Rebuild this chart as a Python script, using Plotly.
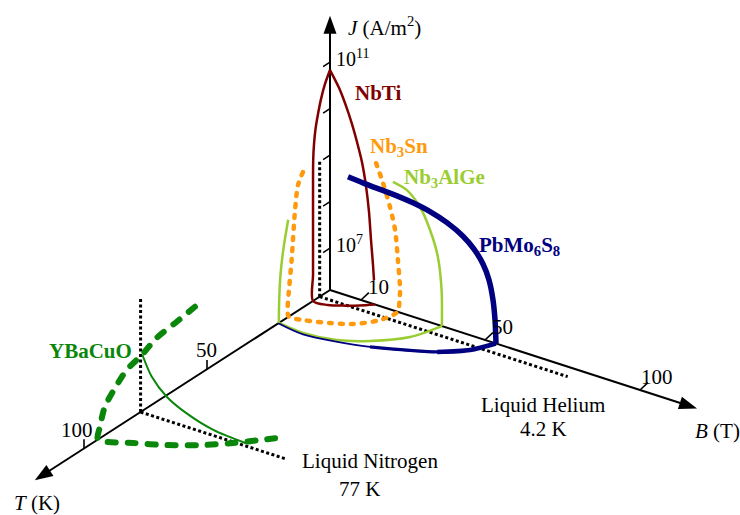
import plotly.graph_objects as go

# ---------------- critical-surface data ----------------
# T in kelvin, B in tesla, J given as log10 of the current density in A/m^2
LOGJ_FLOOR = 6.1  # J level of the T-B floor plane

# NbTi: J-B edge (T = 0), J-T edge (B = 0), T-B edge (floor)
nbti_jb_B = [0.0, 2.9, 5.16, 7.10, 8.71, 10.32, 11.61, 12.58, 13.23, 13.87, 14.19]
nbti_jb_logJ = [10.83, 10.51, 10.17, 9.82, 9.47, 9.07, 8.59, 8.05, 7.46, 6.94, 6.62]
nbti_jt_T = [0.0, 2.03, 3.66, 4.88, 5.89, 6.5, 6.83, 6.9, 6.9, 6.9, 6.9, 6.9]
nbti_jt_logJ = [10.83, 10.60, 10.33, 10.05, 9.76, 9.46, 9.13, 8.59, 7.95, 7.30, 6.66, 6.1]
nbti_tb_T = [6.6, 4.5, 2.5, 0.0]
nbti_tb_B = [4.5, 8.5, 11.5, 14.5]

# Nb3Sn
nb3sn_jt_T = [11.0, 13.0, 14.2, 15.6, 16.8, 17.2]
nb3sn_jt_logJ = [9.01, 8.80, 8.31, 7.28, 6.60, 6.30]
nb3sn_tb_T = [16.8, 16.3, 13.9, 11.2, 5.8, 0.0]
nb3sn_tb_B = [0.0, 4.2, 11.0, 16.3, 20.8, 21.8]
nb3sn_jb_B = [22.4, 22.6, 21.9, 21.0, 19.35, 17.1, 14.5]
nb3sn_jb_logJ = [6.35, 6.59, 7.22, 7.84, 8.30, 8.77, 9.21]

# Nb3AlGe
nb3alge_jt_T = [17.0, 19.0, 20.2, 20.7, 20.8]
nb3alge_jt_logJ = [8.19, 7.61, 7.07, 6.5, 6.1]
nb3alge_tb_T = [20.8, 21.7, 20.1, 16.0, 8.9, 0.0]
nb3alge_tb_B = [0.0, 8.5, 18.2, 25.6, 32.9, 36.1]
nb3alge_jb_B = [36.1, 36.0, 34.8, 32.3, 29.0, 24.8, 20.3]
nb3alge_jb_logJ = [6.1, 6.87, 7.56, 8.08, 8.51, 8.78, 8.86]

# PbMo6S8
pbmo_jb_B = [5.81, 10.97, 16.13, 21.61, 26.77, 32.26, 37.74, 42.9, 46.45, 49.35,
             51.29, 52.58, 53.23, 53.55]
pbmo_jb_logJ = [8.66, 8.63, 8.61, 8.59, 8.55, 8.48, 8.36, 8.18, 7.98, 7.72,
                7.42, 7.02, 6.60, 6.1]
pbmo_tb_T = [21.0, 22.3, 18.5, 11.5, 6.2, 0.0]
pbmo_tb_B = [0.0, 9.0, 27.6, 43.7, 50.1, 53.5]

# YBaCuO: J-T and T-B edges, plus the J-B cut at 77 K
ybco_jt_T = [54.9, 62.3, 70.5, 76.5, 82.6, 87.4, 91.5, 93.5]
ybco_jt_logJ = [7.61, 7.54, 7.47, 7.31, 7.20, 6.97, 6.71, 6.35]
ybco_tb_T = [94.3, 91.0, 87.3, 82.8, 77.5, 72.6, 67.6]
ybco_tb_B = [0.0, 8.7, 16.7, 23.8, 30.2, 35.0, 39.8]
ybco_77_B = [0.6, 3.58, 8.42, 14.87, 23.45, 34.23]
ybco_77_logJ = [7.34, 6.94, 6.61, 6.39, 6.22, 6.16]

# Cryogen operating lines
helium_T, helium_top_logJ, helium_max_B = 4.2, 9.0, 80.0
nitrogen_T, nitrogen_top_logJ, nitrogen_max_B = 77.0, 8.55, 46.6

# Axes
axis_max_T, axis_max_B, axis_max_logJ = 120.0, 118.4, 12.0
j_ticks = [7, 8, 9, 10, 11]
j_tick_labels = {7: "10<sup>7</sup>", 11: "10<sup>11</sup>"}
b_ticks = [10, 50, 100]
t_ticks = [50, 100]
t_label_shift = {50: -1, 100: -7}

# ---------------- oblique projection onto the page ----------------
ORIGIN = (330.0, 290.0)
B_STEP = (3.1, 1.0)       # page units per tesla
T_STEP = (-2.46, 1.585)   # page units per kelvin
J_STEP = 46.5             # page units per decade of J


def project(T, B, logJ):
    xs, ys = [], []
    for t, b, l in zip(T, B, logJ):
        xs.append(ORIGIN[0] + B_STEP[0] * b + T_STEP[0] * t)
        ys.append(ORIGIN[1] + B_STEP[1] * b + T_STEP[1] * t - J_STEP * (l - LOGJ_FLOOR))
    return xs, ys


def jb(B, logJ, T=0.0):
    return project([T] * len(B), B, logJ)


def jt(T, logJ):
    return project(T, [0.0] * len(T), logJ)


def tb(T, B):
    return project(T, B, [LOGJ_FLOOR] * len(T))


def join(*parts):
    xs, ys = [], []
    for px, py in parts:
        xs += px
        ys += py
    return xs, ys


fig = go.Figure()


def curve(pts, color, width, dash="solid", spline=True):
    fig.add_trace(go.Scatter(
        x=pts[0], y=pts[1], mode="lines", hoverinfo="skip",
        line=dict(color=color, width=width, dash=dash, simplify=False,
                  shape="spline" if spline else "linear", smoothing=0.8)))


def arrow_axis(end):
    ox, oy = project([0], [0], [LOGJ_FLOOR])
    ex, ey = project(*[[v] for v in end])
    ox, oy, ex, ey = ox[0], oy[0], ex[0], ey[0]
    dx, dy = ex - ox, ey - oy
    n = (dx * dx + dy * dy) ** 0.5
    ux, uy = dx / n, dy / n
    head, half = 18.0, 6.5
    bx, by = ex - ux * head, ey - uy * head
    curve(([ox, bx + ux * 2], [oy, by + uy * 2]), "black", 2, spline=False)
    fig.add_trace(go.Scatter(
        x=[ex, bx - uy * half, bx + uy * half, ex],
        y=[ey, by + ux * half, by - ux * half, ey],
        mode="lines", fill="toself", fillcolor="black",
        line=dict(width=0, color="black"), hoverinfo="skip"))


DOT = "3px,2.5px"

# cryogen lines (dotted)
curve(project([helium_T] * 2, [0, 0], [LOGJ_FLOOR, helium_top_logJ]), "black", 3, DOT, False)
curve(project([helium_T] * 2, [0, helium_max_B], [LOGJ_FLOOR] * 2), "black", 3, DOT, False)
curve(project([nitrogen_T] * 2, [0, 0], [LOGJ_FLOOR, nitrogen_top_logJ]), "black", 3, DOT, False)
curve(project([nitrogen_T] * 2, [0, nitrogen_max_B], [LOGJ_FLOOR] * 2), "black", 3, DOT, False)

# axes with arrowheads
arrow_axis((0.0, 0.0, axis_max_logJ))
arrow_axis((0.0, axis_max_B, LOGJ_FLOOR))
arrow_axis((axis_max_T, 0.0, LOGJ_FLOOR))

# tick marks
for l in j_ticks:
    curve(project([0, 2.8], [0, 0], [l, l]), "black", 1.6, spline=False)
for b in b_ticks:
    curve(project([0, -3.2], [b, b], [LOGJ_FLOOR, LOGJ_FLOOR + 0.05]), "black", 1.6, spline=False)
for t in t_ticks:
    curve(project([t, t], [0, 0], [LOGJ_FLOOR, LOGJ_FLOOR + 0.2]), "black", 1.6, spline=False)

# colours
C_NBTI, C_NB3SN, C_ALGE, C_PBMO, C_YBCO = "#800000", "#FF9A0F", "#9ACD32", "#000080", "#0A870A"

# NbTi
curve(jb(nbti_jb_B, nbti_jb_logJ), C_NBTI, 2.5)
curve(join(jt(nbti_jt_T, nbti_jt_logJ), tb(nbti_tb_T, nbti_tb_B)), C_NBTI, 2.5)

# Nb3Sn (one dotted loop: J-T edge, floor, J-B edge)
curve(join(jt(nb3sn_jt_T, nb3sn_jt_logJ), tb(nb3sn_tb_T, nb3sn_tb_B),
           jb(nb3sn_jb_B, nb3sn_jb_logJ)), C_NB3SN, 4.5, "3px,8px")

# Nb3AlGe
curve(jt(nb3alge_jt_T, nb3alge_jt_logJ), C_ALGE, 2.5)
curve(tb(nb3alge_tb_T, nb3alge_tb_B), C_ALGE, 2.5)
curve(jb(nb3alge_jb_B, nb3alge_jb_logJ), C_ALGE, 2.5)

# PbMo6S8 (floor edge thickens towards high field)
curve(tb(pbmo_tb_T, pbmo_tb_B), C_PBMO, 1.8)
curve(tb(pbmo_tb_T[2:], pbmo_tb_B[2:]), C_PBMO, 3.2)
curve(tb(pbmo_tb_T[3:], pbmo_tb_B[3:]), C_PBMO, 4.6)
curve(jb(pbmo_jb_B, pbmo_jb_logJ), C_PBMO, 5.5)

# YBaCuO
curve(join(jt(ybco_jt_T, ybco_jt_logJ), tb(ybco_tb_T, ybco_tb_B)), C_YBCO, 6, "8px,12px")
curve(jb(ybco_77_B, ybco_77_logJ, T=nitrogen_T), C_YBCO, 2)

# ---------------- text ----------------
FONT = "Liberation Serif"
annotations = []


def note(x, y, text, color="black", size=21, xanchor="left", yanchor="middle"):
    annotations.append(dict(x=x, y=y, xref="x", yref="y", text=text, showarrow=False,
                            xanchor=xanchor, yanchor=yanchor,
                            font=dict(family=FONT, size=size, color=color)))


for l, lab in j_tick_labels.items():
    px, py = project([0], [0], [l])
    note(px[0] + 4, py[0] - 4, lab, size=20)
for b in b_ticks:
    px, py = project([0], [b], [LOGJ_FLOOR])
    note(px[0] + 17, py[0] - 13, str(b), xanchor="center")
for t in t_ticks:
    px, py = project([t], [0], [LOGJ_FLOOR])
    note(px[0] + t_label_shift[t], py[0] - 19, str(t), xanchor="center")

note(346, 26, "<i>J</i> (A/m<sup>2</sup>)")
note(693, 431, "<i>B</i> (T)")
note(12, 503, "<i>T</i> (K)")
note(543, 405, "Liquid Helium", xanchor="center")
note(543, 429, "4.2 K", xanchor="center")
note(370, 461, "Liquid Nitrogen", xanchor="center")
note(359, 489, "77 K", xanchor="center")

note(353, 93, "<b>NbTi</b>", C_NBTI)
note(368, 147, "<b>Nb<sub>3</sub>Sn</b>", C_NB3SN)
note(402, 178, "<b>Nb<sub>3</sub>AlGe</b>", C_ALGE)
note(477, 246, "<b>PbMo<sub>6</sub>S<sub>8</sub></b>", C_PBMO)
note(47, 351, "<b>YBaCuO</b>", C_YBCO)

fig.update_layout(
    width=740, height=515,
    margin=dict(l=0, r=0, t=0, b=0),
    paper_bgcolor="white", plot_bgcolor="white",
    showlegend=False,
    xaxis=dict(range=[0, 740], visible=False, fixedrange=True),
    yaxis=dict(range=[515, 0], visible=False, fixedrange=True),
    annotations=annotations,
)

# rounded ends for the coloured dashed strokes
round_caps = """
document.querySelectorAll('path.js-line').forEach(function (p) {
  var d = p.style.strokeDasharray;
  if (d && d !== 'none' && p.style.stroke !== 'rgb(0, 0, 0)') {
    p.style.strokeLinecap = 'round';
  }
});
"""

fig.write_html("out.html", config={"displayModeBar": False}, post_script=round_caps)
